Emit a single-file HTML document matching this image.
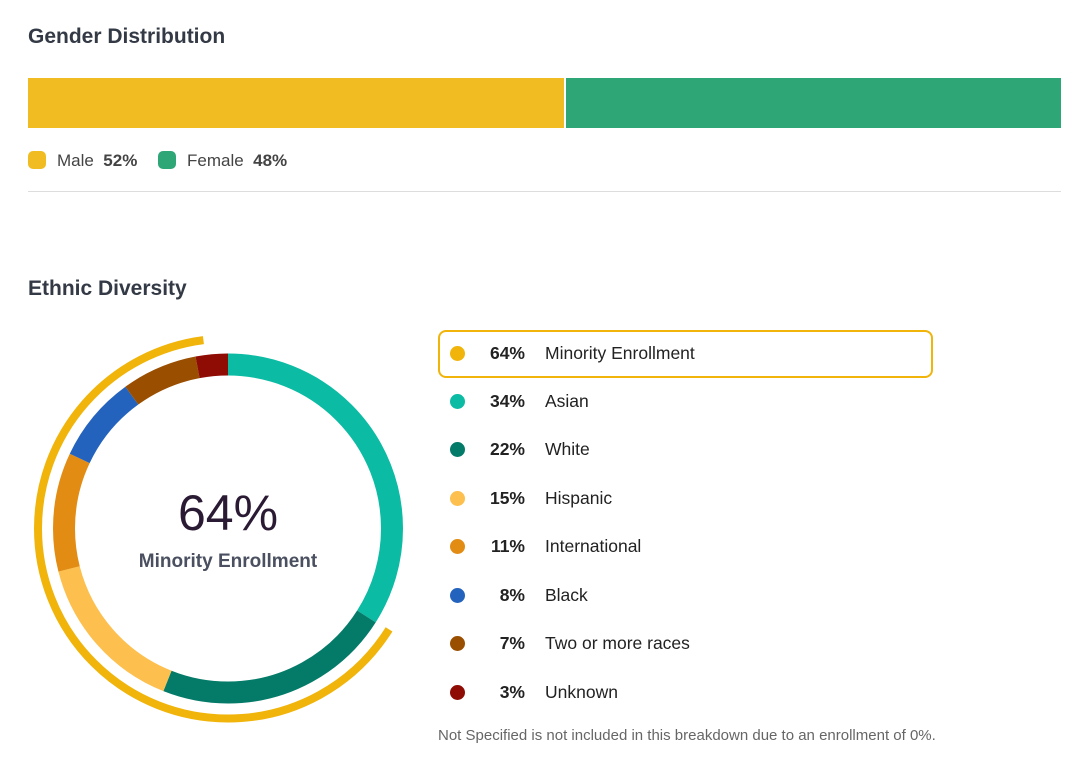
<!DOCTYPE html>
<html><head><style>
body{margin:0;width:1092px;height:768px;background:#fff;font-family:"Liberation Sans",sans-serif;position:relative;overflow:hidden}
.a{position:absolute}
h2{position:absolute;margin:0;font-size:21px;font-weight:bold;color:#333a45}
.row{position:absolute;left:438px;width:495px;height:47px;font-size:17.5px;color:#222}
.row .d{position:absolute;left:12px;top:16px;width:15px;height:15px;border-radius:50%}
.row .p{position:absolute;left:0;width:87px;text-align:right;top:13px;font-weight:bold}
.row .l{position:absolute;left:107px;top:13px}
</style></head><body>
<h2 style="left:28px;top:25px">Gender Distribution</h2>
<div class="a" style="left:28px;top:78px;width:536px;height:50px;background:#f0bc22"></div>
<div class="a" style="left:566px;top:78px;width:495px;height:50px;background:#2ea676"></div>
<div class="a" style="left:28px;top:151px;width:18px;height:18px;border-radius:5px;background:#f0bc22"></div>
<div class="a" style="left:57px;top:151px;font-size:17px;color:#444">Male&nbsp; <b>52%</b></div>
<div class="a" style="left:158px;top:151px;width:18px;height:18px;border-radius:5px;background:#2ea676"></div>
<div class="a" style="left:187px;top:151px;font-size:17px;color:#444">Female&nbsp; <b>48%</b></div>
<div class="a" style="left:28px;top:191px;width:1033px;height:1px;background:#ddd"></div>
<h2 style="left:28px;top:277px">Ethnic Diversity</h2>
<svg class="a" style="left:0;top:0" width="460" height="768">
<g transform="rotate(-90 228 528.5)" fill="none">
<circle cx="228" cy="528.5" r="164" stroke="#0bbba3" stroke-width="22" stroke-dasharray="350.3 2000" stroke-dashoffset="0"/>
<circle cx="228" cy="528.5" r="164" stroke="#047a68" stroke-width="22" stroke-dasharray="226.7 2000" stroke-dashoffset="-350.3"/>
<circle cx="228" cy="528.5" r="164" stroke="#fdbf4d" stroke-width="22" stroke-dasharray="154.6 2000" stroke-dashoffset="-577.0"/>
<circle cx="228" cy="528.5" r="164" stroke="#e28c14" stroke-width="22" stroke-dasharray="113.3 2000" stroke-dashoffset="-731.6"/>
<circle cx="228" cy="528.5" r="164" stroke="#2463bd" stroke-width="22" stroke-dasharray="82.4 2000" stroke-dashoffset="-844.9"/>
<circle cx="228" cy="528.5" r="164" stroke="#9a4e00" stroke-width="22" stroke-dasharray="72.1 2000" stroke-dashoffset="-927.3"/>
<circle cx="228" cy="528.5" r="164" stroke="#8f0c05" stroke-width="22" stroke-dasharray="31.0 2000" stroke-dashoffset="-999.4"/>
<circle cx="228" cy="528.5" r="190" stroke="#f0b40a" stroke-width="8" stroke-dasharray="764 2000" stroke-dashoffset="-404.6"/>
</g>
<text x="228" y="530" text-anchor="middle" font-family="Liberation Sans" font-size="50" fill="#2b1a33" font-weight="300">64%</text>
<text x="228" y="567" text-anchor="middle" font-family="Liberation Sans" font-size="19" font-weight="bold" fill="#4a5060">Minority Enrollment</text>
</svg>
<div class="row" style="top:330px;border:2px solid #f0b40a;border-radius:8px;box-sizing:border-box;height:48px"><div class="d" style="left:10px;top:14px;background:#f0b40a"></div><div class="p" style="left:-2px;top:11px">64%</div><div class="l" style="left:105px;top:11px">Minority Enrollment</div></div>
<div class="row" style="top:378px"><div class="d" style="background:#0bbba3"></div><div class="p">34%</div><div class="l">Asian</div></div>
<div class="row" style="top:426px"><div class="d" style="background:#047a68"></div><div class="p">22%</div><div class="l">White</div></div>
<div class="row" style="top:475px"><div class="d" style="background:#fdbf4d"></div><div class="p">15%</div><div class="l">Hispanic</div></div>
<div class="row" style="top:523px"><div class="d" style="background:#e28c14"></div><div class="p">11%</div><div class="l">International</div></div>
<div class="row" style="top:572px"><div class="d" style="background:#2463bd"></div><div class="p">8%</div><div class="l">Black</div></div>
<div class="row" style="top:620px"><div class="d" style="background:#9a4e00"></div><div class="p">7%</div><div class="l">Two or more races</div></div>
<div class="row" style="top:669px"><div class="d" style="background:#8f0c05"></div><div class="p">3%</div><div class="l">Unknown</div></div>
<div class="a" style="left:438px;top:727px;font-size:15px;color:#666">Not Specified is not included in this breakdown due to an enrollment of 0%.</div>
</body></html>
